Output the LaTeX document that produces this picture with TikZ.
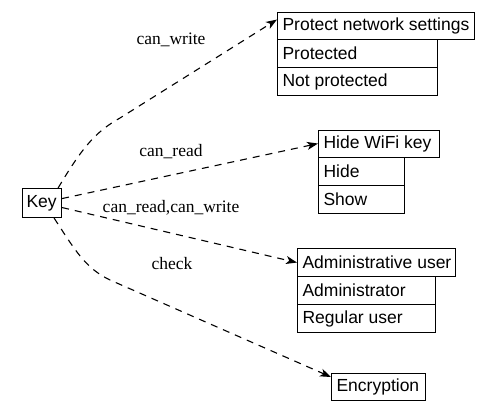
\documentclass[tikz,border=0pt]{standalone}
\usepackage{fontspec}
\setmainfont{Liberation Sans}
\newfontfamily\edgefont{Liberation Serif}
\usetikzlibrary{arrows.meta,calc}
\newcommand{\cellw}[2]{\makebox[#1][l]{#2}}
\begin{document}
\begin{tikzpicture}[x=1pt,y=-1pt,
  cell/.style={draw, line width=1.1pt, anchor=north west, inner xsep=5pt, inner ysep=0pt,
     minimum height=#1, font=\fontsize{17.5}{20}\selectfont},
  cell/.default=28pt,
  edge/.style={draw, line width=1.1pt, dash pattern=on 7pt off 6pt,
     -{Stealth[length=11pt,width=8pt,inset=3pt]}},
  elabel/.style={font=\edgefont\fontsize{17.5}{20}\selectfont, inner sep=0pt}]
\useasboundingbox (0,0) rectangle (495,415);
% key
\node[cell=29pt, inner xsep=4pt] (key) at (22,188) {\cellw{31pt}{Key}};
% box 1
\node[cell=27pt] (h1) at (277,12) {\cellw{187pt}{Protect network settings}};
\node[cell] (r1a) at (277,39) {\cellw{150pt}{Protected}};
\node[cell] (r1b) at (277,67) {\cellw{150pt}{Not protected}};
% box 2
\node[cell=27pt] (h2) at (318,130) {\cellw{111pt}{Hide WiFi key}};
\node[cell] (r2a) at (318,157) {\cellw{76pt}{Hide}};
\node[cell] (r2b) at (318,185) {\cellw{76pt}{Show}};
% box 3
\node[cell] (h3) at (297,248) {\cellw{148pt}{Administrative user}};
\node[cell] (r3a) at (297,276) {\cellw{128pt}{Administrator}};
\node[cell] (r3b) at (297,304) {\cellw{128pt}{Regular user}};
% box 4
\node[cell=27pt] (h4) at (331,373) {\cellw{84pt}{Encryption}};
% bends
\coordinate (b1) at (120,118);
\coordinate (b4) at (110,280);
% edges
\draw[edge] ([xshift=-4pt]key.north east) .. controls (82,148) and (95,132) .. (b1) -- ([yshift=6.5pt]h1.west);
\draw[edge] ([yshift=4.5pt]key.east) -- ([yshift=0.5pt]h2.west);
\draw[edge] ([yshift=-4.5pt]key.east) -- (h3.west);
\draw[edge] ([xshift=-8pt]key.south east) .. controls (75,250) and (85,268) .. (b4) -- ([yshift=-4pt]h4.north west);
% labels
\node[elabel] (l1) at (171,40) {can\_write};
\node[elabel] (l2) at (171,152) {can\_read};
\node[elabel] (l3) at (171,208) {can\_read,can\_write};
\node[elabel] (l4) at (172,264) {check};
\end{tikzpicture}
\end{document}
